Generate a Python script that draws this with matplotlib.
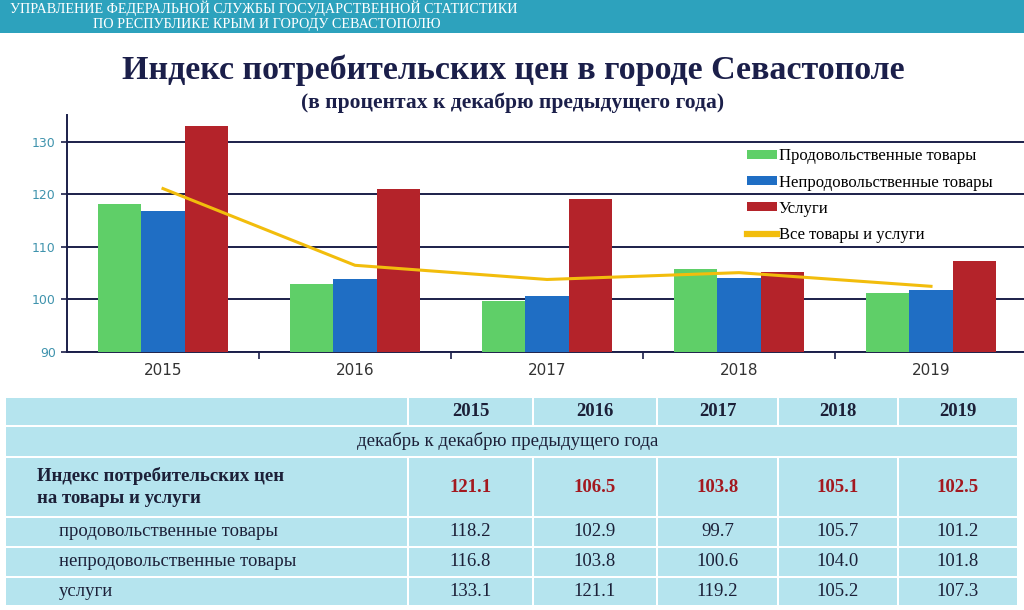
import matplotlib
matplotlib.use("Agg")
import matplotlib.pyplot as plt
from matplotlib.patches import Rectangle
import numpy as np

years = ["2015", "2016", "2017", "2018", "2019"]
food = [118.2, 102.9, 99.7, 105.7, 101.2]
nonfood = [116.8, 103.8, 100.6, 104.0, 101.8]
services = [133.1, 121.1, 119.2, 105.2, 107.3]
all_goods = [121.1, 106.5, 103.8, 105.1, 102.5]

series_names = ["Продовольственные товары", "Непродовольственные товары", "Услуги", "Все товары и услуги"]
row_labels = ["продовольственные товары", "непродовольственные товары", "услуги"]
main_row_label = "Индекс потребительских цен\nна товары и услуги"
subheader = "декабрь к декабрю предыдущего года"

header1 = "УПРАВЛЕНИЕ ФЕДЕРАЛЬНОЙ СЛУЖБЫ ГОСУДАРСТВЕННОЙ СТАТИСТИКИ"
header2 = "ПО РЕСПУБЛИКЕ КРЫМ И ГОРОДУ СЕВАСТОПОЛЮ"
title = "Индекс потребительских цен в городе Севастополе"
subtitle = "(в процентах к декабрю предыдущего года)"

GREEN = "#5fcf68"
BLUE = "#1f6ec4"
RED = "#b4232a"
YELLOW = "#f2bd0c"
NAVY = "#1b1f4a"
TXT = "#1c2038"
TEAL_TXT = "#3f93ad"
CELL = "#b5e4ee"
SERIF = ["Liberation Serif", "DejaVu Serif"]

W, H = 1024, 610
fig = plt.figure(figsize=(W / 100, H / 100), dpi=100)
fig.patch.set_facecolor("white")

def fx(px):
    return px / W

def fy(py):
    return 1 - py / H

# header band
fig.patches.append(Rectangle((0, fy(33)), 1, 33 / H, transform=fig.transFigure,
                             facecolor="#2da2bd", edgecolor="none", zorder=0))
fig.text(fx(10), fy(8), header1, color="white", fontsize=10.2, family=SERIF,
         ha="left", va="center")
fig.text(fx(267), fy(24.5), header2, color="white", fontsize=10.2, family=SERIF,
         ha="center", va="center")

fig.text(fx(513), fy(70), title, color=NAVY, fontsize=24.5, family=SERIF,
         fontweight="bold", ha="center", va="center")
fig.text(fx(513), fy(103), subtitle, color=NAVY, fontsize=15.5, family=SERIF,
         fontweight="bold", ha="center", va="center")

# chart axes
ax = fig.add_axes([fx(67), fy(352), 960 / W, (352 - 115) / H])
x = np.arange(len(years))
bw = 0.225
b1 = ax.bar(x - bw, food, bw, color=GREEN, label=series_names[0], zorder=3)
b2 = ax.bar(x, nonfood, bw, color=BLUE, label=series_names[1], zorder=3)
b3 = ax.bar(x + bw, services, bw, color=RED, label=series_names[2], zorder=3)
l4, = ax.plot(x, all_goods, color=YELLOW, lw=2.2, label=series_names[3], zorder=4)

ax.set_xlim(-0.5, 4.5)
ax.set_ylim(90, 135.1)
ax.set_yticks([90, 100, 110, 120, 130])
ax.yaxis.grid(True, color=NAVY, lw=1.4, zorder=1)
ax.set_axisbelow(True)
ax.set_xticks(x)
ax.set_xticklabels(years)
ax.set_xticks(np.arange(0.5, 4.5, 1), minor=True)
ax.tick_params(axis="x", which="major", length=0, pad=8, labelsize=11, labelcolor="#333333")
ax.tick_params(axis="x", which="minor", length=5, color=NAVY, width=1.2)
ax.tick_params(axis="y", length=4, color=NAVY, width=1.2, labelsize=9, labelcolor=TEAL_TXT, pad=4)
for s in ["top", "right"]:
    ax.spines[s].set_visible(False)
for s in ["left", "bottom"]:
    ax.spines[s].set_color(NAVY)
    ax.spines[s].set_linewidth(1.4)
ax.set_facecolor("none")

leg = ax.legend([b1, b2, b3, l4], series_names, loc="upper left",
                bbox_to_anchor=(0.708, 0.86), frameon=False,
                prop={"family": SERIF, "size": 12}, handlelength=1.8, handleheight=0.45,
                handletextpad=0.12, labelspacing=0.62, borderaxespad=0, borderpad=0)
leg.legend_handles[3].set_linewidth(4.5)

# table
col_edges = [5, 408, 533, 657, 778, 898, 1018]
row_edges = [397, 426, 457, 517, 547, 577, 606]
gap = 2

def cell(x0, x1, y0, y1):
    fig.patches.append(Rectangle((fx(x0 + gap / 2), fy(y1 - gap / 2)),
                                 (x1 - x0 - gap) / W, (y1 - y0 - gap) / H,
                                 transform=fig.transFigure, facecolor=CELL,
                                 edgecolor="none", zorder=0))

for i in range(len(col_edges) - 1):
    cell(col_edges[i], col_edges[i + 1], row_edges[0], row_edges[1])
cell(col_edges[0], col_edges[-1], row_edges[1], row_edges[2])
for r in range(2, 6):
    for i in range(len(col_edges) - 1):
        cell(col_edges[i], col_edges[i + 1], row_edges[r], row_edges[r + 1])

TS = 13.5
for i, yv in enumerate(years):
    cx = (col_edges[i + 1] + col_edges[i + 2]) / 2
    fig.text(fx(cx), fy((row_edges[0] + row_edges[1]) / 2), yv, color=TXT,
             fontsize=TS, family=SERIF, fontweight="bold", ha="center", va="center")
fig.text(fx(508), fy((row_edges[1] + row_edges[2]) / 2), subheader, color=TXT,
         fontsize=TS, family=SERIF, ha="center", va="center")
fig.text(fx(37), fy((row_edges[2] + row_edges[3]) / 2), main_row_label, color=TXT,
         fontsize=TS, family=SERIF, fontweight="bold", ha="left", va="center",
         linespacing=1.45)
for i, v in enumerate(all_goods):
    cx = (col_edges[i + 1] + col_edges[i + 2]) / 2
    fig.text(fx(cx), fy((row_edges[2] + row_edges[3]) / 2), f"{v:.1f}", color="#a3181f",
             fontsize=TS, family=SERIF, fontweight="bold", ha="center", va="center")
for r, (lab, vals) in enumerate(zip(row_labels, [food, nonfood, services])):
    yc = (row_edges[3 + r] + row_edges[4 + r]) / 2
    fig.text(fx(59), fy(yc), lab, color=TXT, fontsize=TS, family=SERIF,
             ha="left", va="center")
    for i, v in enumerate(vals):
        cx = (col_edges[i + 1] + col_edges[i + 2]) / 2
        fig.text(fx(cx), fy(yc), f"{v:.1f}", color=TXT, fontsize=TS, family=SERIF,
                 ha="center", va="center")

fig.savefig("out.png", dpi=100)
